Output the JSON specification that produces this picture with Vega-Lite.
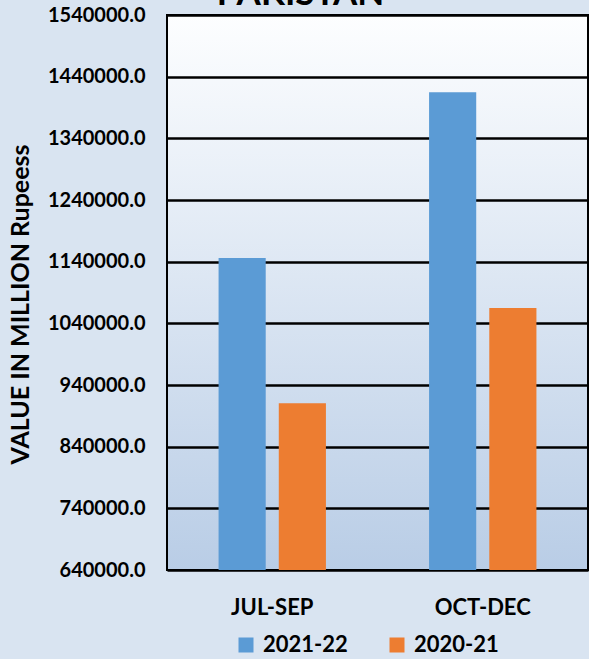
{
  "$schema": "https://vega.github.io/schema/vega-lite/v6.json",
  "width": 421,
  "height": 555,
  "autosize": {"type": "none"},
  "padding": {"left": 167, "top": 15, "right": 1, "bottom": 89},
  "background": "#d9e4f1",
  "title": {
    "text": "PAKISTAN",
    "fontSize": 35,
    "font": "Lato",
    "fontWeight": "bold",
    "color": "#000000",
    "anchor": "middle",
    "dx": -77,
    "offset": -7
  },
  "data": {
    "values": [
      {"quarter": "JUL-SEP", "year": "2021-22", "value": 1146000},
      {"quarter": "JUL-SEP", "year": "2020-21", "value": 910300},
      {"quarter": "OCT-DEC", "year": "2021-22", "value": 1414700},
      {"quarter": "OCT-DEC", "year": "2020-21", "value": 1065000}
    ]
  },
  "mark": {"type": "bar", "clip": true},
  "encoding": {
    "x": {
      "field": "quarter",
      "type": "nominal",
      "sort": ["JUL-SEP", "OCT-DEC"],
      "scale": {"paddingInner": 0.49, "paddingOuter": 0.245},
      "axis": {
        "title": null,
        "labelAngle": 0,
        "labelFont": "Lato",
        "labelFontWeight": "bold",
        "labelFontSize": 22,
        "labelColor": "#000000",
        "labelPadding": 27,
        "ticks": false,
        "domain": false
      }
    },
    "xOffset": {
      "field": "year",
      "type": "nominal",
      "sort": ["2021-22", "2020-21"],
      "scale": {"paddingInner": 0.217, "paddingOuter": 0}
    },
    "y": {
      "field": "value",
      "type": "quantitative",
      "scale": {"domain": [640000, 1540000], "nice": false, "zero": false},
      "axis": {
        "title": "VALUE IN MILLION Rupeess",
        "titleFont": "Lato",
        "titleFontWeight": "bold",
        "titleFontSize": 25,
        "titleColor": "#000000",
        "titlePadding": 14,
        "titleY": 289,
        "values": [640000, 740000, 840000, 940000, 1040000, 1140000, 1240000, 1340000, 1440000, 1540000],
        "format": ".1f",
        "labelFont": "Lato",
        "labelFontWeight": "bold",
        "labelFontSize": 20,
        "labelColor": "#000000",
        "labelPadding": 22,
        "ticks": false,
        "domain": false,
        "grid": true,
        "gridColor": "#000000",
        "gridWidth": 2.5,
        "gridOpacity": 1
      }
    },
    "color": {
      "field": "year",
      "type": "nominal",
      "sort": ["2021-22", "2020-21"],
      "scale": {"domain": ["2021-22", "2020-21"], "range": ["#5b9bd5", "#ed7d31"]},
      "legend": {
        "title": null,
        "orient": "none",
        "legendX": 68,
        "legendY": 619,
        "direction": "horizontal",
        "symbolType": "square",
        "symbolSize": 225,
        "symbolStrokeWidth": 0,
        "labelFont": "Lato",
        "labelFontWeight": "bold",
        "labelFontSize": 22,
        "labelColor": "#000000",
        "labelOffset": 6,
        "columnPadding": 38
      }
    }
  },
  "config": {
    "view": {
      "stroke": "#000000",
      "strokeWidth": 2,
      "fill": {
        "gradient": "linear",
        "x1": 0, "y1": 0, "x2": 0, "y2": 1,
        "stops": [
          {"offset": 0, "color": "#fdfeff"},
          {"offset": 1, "color": "#b9cde6"}
        ]
      }
    }
  }
}
